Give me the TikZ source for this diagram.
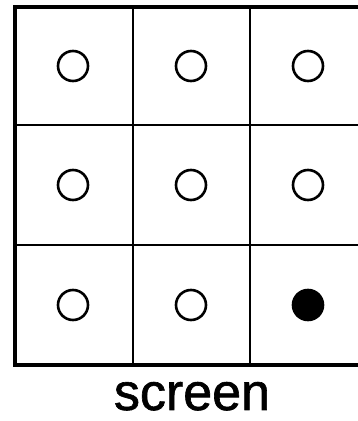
\documentclass[tikz,border=0pt]{standalone}
\usepackage{fontspec}
\setmainfont{Liberation Sans}
\newfontfamily\lblfont[FakeBold=1.2]{Liberation Sans}
\begin{document}
\begin{tikzpicture}[x=1pt,y=1pt,
  pix/.style={circle, draw, line width=2.6pt, minimum size=30pt, inner sep=0pt},
  pixon/.style={pix, fill=black},
  gridline/.style={line width=1.3pt}]
\clip (0,0) rectangle (358,421);
\fill[white] (0,0) rectangle (358,421);
% grid
\draw[gridline] (133,414) -- (133,56);
\draw[gridline] (250,414) -- (250,56);
\draw[gridline] (15,296) -- (368,296);
\draw[gridline] (15,176) -- (368,176);
\draw[line width=4.5pt] (15,414) rectangle (368,56);
% pixels
\node[pix] (p11) at (73,355) {};
\node[pix] (p12) at (191,355) {};
\node[pix] (p13) at (308,355) {};
\node[pix] (p21) at (73,236) {};
\node[pix] (p22) at (191,236) {};
\node[pix] (p23) at (308,236) {};
\node[pix] (p31) at (73,116) {};
\node[pix] (p32) at (191,116) {};
\node[pixon] (p33) at (308,116) {};
\node[anchor=base, inner sep=0pt, font=\lblfont\fontsize{52}{60}\selectfont] (lbl) at (192,11) {screen};
\end{tikzpicture}
\end{document}
